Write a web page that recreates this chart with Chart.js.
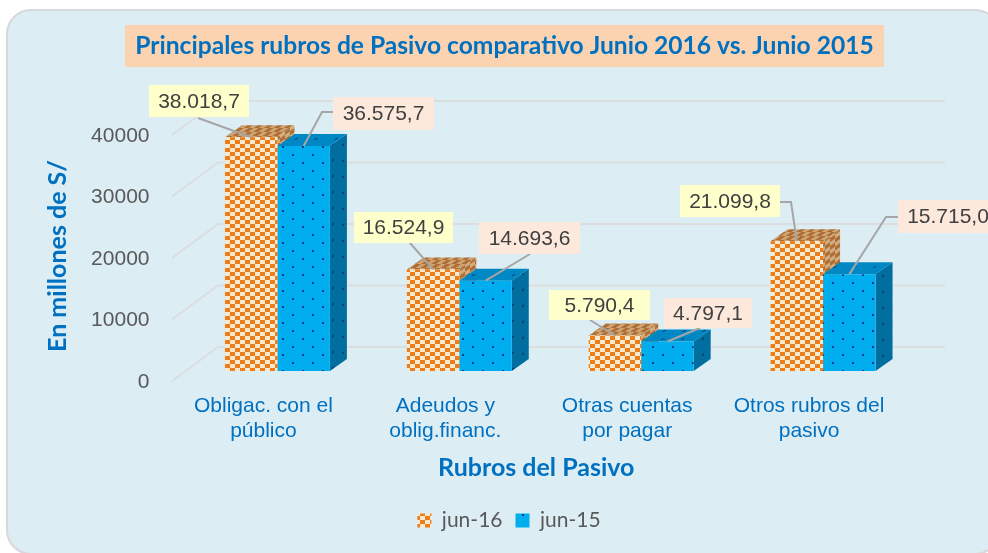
<!DOCTYPE html>
<html><head><meta charset="utf-8">
<script src="https://cdn.jsdelivr.net/npm/chart.js@4"></script>
<style>
html,body{margin:0;padding:0;background:#fff;overflow:hidden;width:988px;height:553px}
#panel{position:absolute;left:6px;top:9px;width:994px;height:546px;background:#DCEDF4;border:2px solid #D6D8D9;border-radius:25px;box-sizing:border-box}
#c{position:absolute;left:0;top:0}
</style></head><body>
<div id="panel"></div>
<canvas id="c" width="988" height="553" style="width:988px;height:553px"></canvas>
<script>
const categories = [["Obligac. con el","público"],["Adeudos y","oblig.financ."],["Otras cuentas","por pagar"],["Otros rubros del","pasivo"]];
const jun16 = [38018.7,16524.9,5790.4,21099.8];
const jun15 = [36575.7,14693.6,4797.1,15715.0];
const labels16 = ["38.018,7","16.524,9","5.790,4","21.099,8"];
const labels15 = ["36.575,7","14.693,6","4.797,1","15.715,0"];
const titleText = "Principales rubros de Pasivo comparativo Junio 2016 vs. Junio 2015";

const SANS = '"Liberation Sans", Arial, sans-serif';
const CAL = 'Lato, "Noto Sans", sans-serif';
const BLUE = '#0070C0';
const DEPTH = {dx:17, dy:-12};
const WALL = {fx:-14.5, fy:10, bx:31.5, by:-24, right:945};

function tile(w,h,bg,draw){const c=document.createElement('canvas');c.width=w;c.height=h;const x=c.getContext('2d');x.fillStyle=bg;x.fillRect(0,0,w,h);draw(x);return c;}
function check(bg,fg){return tile(10,8,bg,x=>{x.fillStyle=fg;x.fillRect(0,0,5,4);x.fillRect(5,4,5,4);});}
function dots(bg,fg){return tile(20,16,bg,x=>{x.fillStyle=fg;x.fillRect(2,2,2,2);x.fillRect(12,10,2,2);});}
const ctx0=document.getElementById('c').getContext('2d');
function pat(t,m){const p=ctx0.createPattern(t,'repeat');if(m)p.setTransform(new DOMMatrix(m));return p;}
const topM=[1,0,-DEPTH.dx/-DEPTH.dy,1,0,0], sideM=[1,DEPTH.dy/DEPTH.dx,0,1,0,0];
const orangeFront=pat(check('#F7EAD3','#EE7D17'));
const orangeTop=pat(check('#CDA372','#AE6E35'),topM);
const orangeSide=pat(check('#D2AC7E','#AE6E35'),sideM);
const blueFront=pat(dots('#00AEEF','#0A3D8F'));
const blueTop=pat(dots('#0088C4','#07497E'),topM);
const blueSide=pat(dots('#006E9F','#073F6B'),sideM);

const faces=[{top:orangeTop,side:orangeSide},{top:blueTop,side:blueSide}];
const callouts=[
 [{box:[149,85,100,32],line:[[198,118]],bg:'#FFFFCC'},
  {box:[354,212,99,31],line:[[410,243]],bg:'#FFFFCC'},
  {box:[549,290,101,30],line:[[590,320]],bg:'#FFFFCC'},
  {box:[680,185,100,32],line:[[780,202],[791,202]],bg:'#FFFFCC'}],
 [{box:[333,97,101,33],line:[[333,112],[322,112]],bg:'#FDE9DC'},
  {box:[479,222,101,32],line:[[530,254]],bg:'#FDE9DC'},
  {box:[664,298,88,30],line:[[700,328]],bg:'#FDE9DC'},
  {box:[898,200,100,33],line:[[898,217],[886,217]],bg:'#FDE9DC'}]
];
const calloutText=[labels16,labels15];

function shiftTitle(s,dx,dy){
 if(s._shifted) return;
 const o=s.drawTitle;
 s.drawTitle=function(){const c=this.ctx;c.save();c.translate(dx,dy);o.call(this);c.restore();};
 s._shifted=true;
}
const scene={
 id:'scene',
 afterLayout(chart){
  const t=chart.titleBlock; t.left=125;t.right=884;t.top=31;t.bottom=61;
  const l=chart.legend; l.left=30;l.right=988;const h=l.height;l.top=497;l.bottom=497+h;
  shiftTitle(chart.scales.x,-14,0);
  shiftTitle(chart.scales.y,0,8);
 },
 beforeDraw(chart){
  const c=chart.ctx,y=chart.scales.y;
  c.save();
  c.fillStyle='#FBD3B0';c.fillRect(125,25,759,42);
  c.strokeStyle='#DBDEDF';c.lineWidth=2;
  y.ticks.forEach(tk=>{const py=y.getPixelForValue(tk.value),xa=chart.chartArea.left;
   c.beginPath();c.moveTo(xa+WALL.fx,py+WALL.fy);c.lineTo(xa+WALL.bx,py+WALL.by);c.lineTo(WALL.right,py+WALL.by);c.stroke();});
  c.restore();
 },
 beforeDatasetsDraw(chart){
  const c=chart.ctx,{dx,dy}=DEPTH;
  c.save();
  [0,1].forEach(i=>chart.getDatasetMeta(i).data.forEach(b=>{
   const l=b.x-b.width/2,r=b.x+b.width/2,tp=b.y,bt=b.base;
   c.fillStyle=faces[i].top;c.beginPath();c.moveTo(l,tp);c.lineTo(l+dx,tp+dy);c.lineTo(r+dx,tp+dy);c.lineTo(r,tp);c.closePath();c.fill();
   c.fillStyle=faces[i].side;c.beginPath();c.moveTo(r,tp);c.lineTo(r+dx,tp+dy);c.lineTo(r+dx,bt+dy);c.lineTo(r,bt);c.closePath();c.fill();
  }));
  c.restore();
 },
 afterDatasetsDraw(chart){
  const c=chart.ctx;
  c.save();
  [0,1].forEach(i=>chart.getDatasetMeta(i).data.forEach((b,j)=>{
   const k=callouts[i][j];
   c.strokeStyle='#A6A6A6';c.lineWidth=2;c.beginPath();
   k.line.forEach((p,n)=>n?c.lineTo(p[0],p[1]):c.moveTo(p[0],p[1]));
   c.lineTo(b.x,b.y);c.stroke();
   c.fillStyle=k.bg;c.fillRect(k.box[0],k.box[1],k.box[2],k.box[3]);
   c.fillStyle='#404040';c.font='21px '+SANS;c.textAlign='center';c.textBaseline='middle';
   c.fillText(calloutText[i][j],k.box[0]+k.box[2]/2,k.box[1]+k.box[3]/2+1);
  }));
  c.restore();
 }
};

new Chart(ctx0,{
 type:'bar',
 data:{labels:categories,datasets:[
  {label:'jun-16',data:jun16,backgroundColor:orangeFront,borderWidth:0},
  {label:'jun-15',data:jun15,backgroundColor:blueFront,borderWidth:0}
 ]},
 plugins:[scene],
 options:{
  responsive:false,animation:false,
  layout:{padding:{left:0,right:74,top:95,bottom:21}},
  datasets:{bar:{categoryPercentage:0.577,barPercentage:1}},
  scales:{
   x:{afterFit(s){s.height=117;},
      grid:{display:false},border:{display:false},
      ticks:{color:BLUE,font:{family:SANS,size:21,lineHeight:1.19},labelOffset:-14,padding:15,maxRotation:0,autoSkip:false},
      title:{display:true,text:'Rubros del Pasivo',color:BLUE,font:{family:CAL,size:25,weight:'bold'},padding:{top:0,bottom:5}}},
   y:{min:0,max:40000,afterFit(s){s.width=186.5;},
      grid:{display:false},border:{display:false},
      ticks:{stepSize:10000,color:'#595959',font:{family:SANS,size:21},labelOffset:11,padding:29,callback:v=>String(v)},
      title:{display:true,text:'En millones de S/',color:BLUE,font:{family:CAL,size:25,weight:'bold'},padding:{top:43,bottom:0}}}
  },
  plugins:{
   title:{display:true,text:titleText,color:BLUE,font:{family:CAL,size:24.6,weight:'bold',lineHeight:1.22},padding:0},
   legend:{display:true,position:'bottom',labels:{boxWidth:14,boxHeight:14,color:'#595959',font:{family:CAL,size:21},padding:13}},
   tooltip:{enabled:false}
  }
 }
});
</script></body></html>
